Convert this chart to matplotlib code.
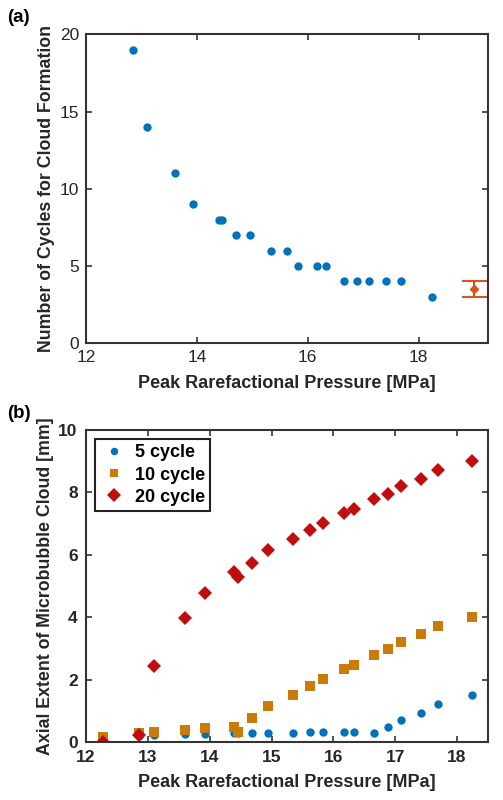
import matplotlib
matplotlib.use("Agg")
import matplotlib.pyplot as plt

plt.rcParams["font.family"] = ["Liberation Sans", "DejaVu Sans"]

# Panel (a): cycles needed for cloud formation
pressure_a = [12.84, 13.10, 13.60, 13.93, 14.40, 14.46, 14.70, 14.95, 15.33, 15.62,
              15.83, 16.17, 16.33, 16.65, 16.88, 17.10, 17.41, 17.69, 18.25]
cycles_a = [19, 14, 11, 9, 8, 8, 7, 7, 6, 6, 5, 5, 5, 4, 4, 4, 4, 4, 3]
err_x = [19.0]
err_y = [3.5]
err_half = [0.5]

# Panel (b): axial extent of the cloud
pressure_b = [12.27, 12.85, 13.10, 13.60, 13.92, 14.40, 14.46, 14.69, 14.95, 15.34,
              15.62, 15.83, 16.17, 16.33, 16.65, 16.88, 17.10, 17.41, 17.69, 18.25]
extent_5 = [0.15, 0.20, 0.22, 0.25, 0.26, 0.28, 0.28, 0.28, 0.29, 0.30,
            0.32, 0.32, 0.33, 0.33, 0.29, 0.48, 0.70, 0.94, 1.22, 1.50]
extent_10 = [0.17, 0.28, 0.33, 0.39, 0.44, 0.48, 0.31, 0.76, 1.15, 1.51,
             1.81, 2.03, 2.35, 2.48, 2.78, 2.98, 3.19, 3.45, 3.72, 4.00]
extent_20 = [0.00, 0.22, 2.45, 3.98, 4.79, 5.46, 5.30, 5.75, 6.14, 6.50,
             6.80, 7.02, 7.34, 7.48, 7.78, 7.96, 8.19, 8.44, 8.71, 9.00]

blue = "#0072BD"
orange = "#D95319"
gold = "#CC7A0A"
red = "#C00D0D"
edge = "#333333"
txt = "#262626"

fig = plt.figure(figsize=(5.03, 8.00), dpi=100)
ax1 = fig.add_axes([0.171, 0.571, 0.799, 0.386])
ax2 = fig.add_axes([0.171, 0.0725, 0.799, 0.39])

# (a)
ax1.plot(pressure_a, cycles_a, "o", color=blue, markersize=6, markeredgewidth=0)
ax1.errorbar(err_x, err_y, yerr=err_half, fmt="D", color=orange, markersize=4,
             capsize=9, elinewidth=1.5, capthick=1.5)
ax1.set_xlim(12, 19.25)
ax1.set_ylim(0, 20)
ax1.set_xticks([12, 14, 16, 18])
ax1.set_yticks([0, 5, 10, 15, 20])
ax1.set_xlabel("Peak Rarefactional Pressure [MPa]", fontsize=13, fontweight="bold",
               color=txt, labelpad=7)
ax1.set_ylabel("Number of Cycles for Cloud Formation", fontsize=12.8, fontweight="bold",
               color=txt, labelpad=3)
ax1.tick_params(direction="in", top=True, right=True, labelsize=12.5, length=4,
                width=1.2, colors=edge, labelcolor=txt, pad=5)

# (b)
ax2.plot(pressure_b, extent_5, "o", color=blue, markersize=6, markeredgewidth=0,
         label="5 cycle")
ax2.plot(pressure_b, extent_10, "s", color=gold, markersize=6.5, markeredgewidth=0,
         label="10 cycle")
ax2.plot(pressure_b, extent_20, "D", color=red, markersize=7.5, markeredgewidth=0,
         label="20 cycle")
ax2.set_xlim(12, 18.5)
ax2.set_ylim(0, 10)
ax2.set_xticks([12, 13, 14, 15, 16, 17, 18])
ax2.set_yticks([0, 2, 4, 6, 8, 10])
ax2.set_xlabel("Peak Rarefactional Pressure [MPa]", fontsize=13, fontweight="bold",
               color=txt, labelpad=6)
ax2.set_ylabel("Axial Extent of Microbubble Cloud [mm]", fontsize=12.8, fontweight="bold",
               color=txt, labelpad=3)
ax2.tick_params(direction="in", top=True, right=True, labelsize=12.5, length=4,
                width=1.2, colors=edge, labelcolor=txt, pad=6)
for lab in ax2.get_xticklabels() + ax2.get_yticklabels():
    lab.set_fontweight("bold")
leg = ax2.legend(loc="upper left", prop={"weight": "bold", "size": 13},
                 fancybox=False, edgecolor="#222222", framealpha=1,
                 handletextpad=0.4, borderpad=0.3, labelspacing=0.28,
                 handlelength=1.5, borderaxespad=0.5, markerscale=0.9)
leg.get_frame().set_linewidth(1.5)

for ax in (ax1, ax2):
    for sp in ax.spines.values():
        sp.set_linewidth(1.5)
        sp.set_color(edge)

fig.text(0.014, 0.972, "(a)", fontsize=13.5, fontweight="bold")
fig.text(0.014, 0.478, "(b)", fontsize=13.5, fontweight="bold")

fig.savefig("out.png", dpi=100)
